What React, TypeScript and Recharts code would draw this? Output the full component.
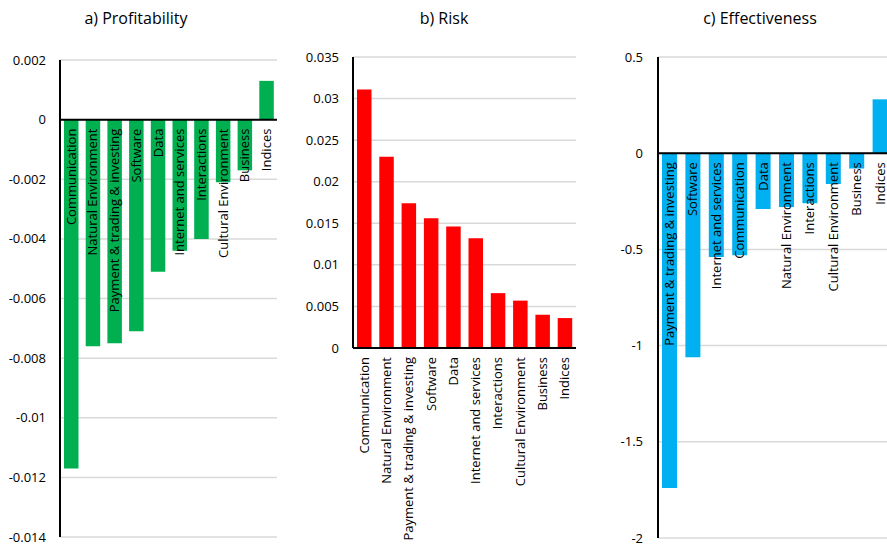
import React from "react";
import {
  BarChart,
  Bar,
  XAxis,
  YAxis,
  CartesianGrid,
  ReferenceLine,
  LabelList,
} from "recharts";

const FONT = "'Open Sans', sans-serif";

// a) Profitability
const PROFIT_CATS = [
  "Communication",
  "Natural Environment",
  "Payment & trading & investing",
  "Software",
  "Data",
  "Internet and services",
  "Interactions",
  "Cultural Environment",
  "Business",
  "Indices",
];
const PROFIT_VALUES = [-0.0117, -0.0076, -0.0075, -0.0071, -0.0051, -0.0044, -0.004, -0.0021, -0.0017, 0.0013];
const PROFIT_TICKS = [0.002, 0, -0.002, -0.004, -0.006, -0.008, -0.01, -0.012, -0.014];

// b) Risk
const RISK_CATS = PROFIT_CATS;
const RISK_VALUES = [0.0311, 0.023, 0.0174, 0.0156, 0.0146, 0.0132, 0.0066, 0.0057, 0.004, 0.0036];
const RISK_TICKS = [0, 0.005, 0.01, 0.015, 0.02, 0.025, 0.03, 0.035];

// c) Effectiveness
const EFFECT_CATS = [
  "Payment & trading & investing",
  "Software",
  "Internet and services",
  "Communication",
  "Data",
  "Natural Environment",
  "Interactions",
  "Cultural Environment",
  "Business",
  "Indices",
];
const EFFECT_VALUES = [-1.74, -1.06, -0.54, -0.53, -0.29, -0.28, -0.26, -0.16, -0.08, 0.28];
const EFFECT_TICKS = [0.5, 0, -0.5, -1, -1.5, -2];

type Row = { name: string; value: number };
const build = (cats: string[], vals: number[]): Row[] =>
  cats.map((name, i) => ({ name, value: vals[i] }));

const profitData = build(PROFIT_CATS, PROFIT_VALUES);
const riskData = build(RISK_CATS, RISK_VALUES);
const effectData = build(EFFECT_CATS, EFFECT_VALUES);

const tickStyle = { fontSize: 13, fill: "#000", fontFamily: FONT };

// category name drawn just under the zero line, rotated
const zeroLabel = (data: Row[]) => (props: any) => {
  const vb = props.viewBox ?? props;
  const { x, y, width, height } = vb;
  const row = data[props.index];
  if (!row) return null;
  const zero = row.value < 0 ? Math.min(y, y + height) : Math.max(y, y + height);
  const cx = x + width / 2;
  const ty = zero + 9;
  return (
    <text
      x={cx}
      y={ty}
      transform={`rotate(-90 ${cx} ${ty})`}
      textAnchor="end"
      dy="0.35em"
      fontSize={13}
      fill="#000"
      fontFamily={FONT}
    >
      {row.name}
    </text>
  );
};

const RotatedTick = (props: any) => {
  const { x, y, payload } = props;
  return (
    <text
      x={x}
      y={y}
      transform={`rotate(-90 ${x} ${y})`}
      textAnchor="end"
      dy="0.35em"
      fontSize={13}
      fill="#000"
      fontFamily={FONT}
    >
      {payload.value}
    </text>
  );
};

const Title = ({ text, cx }: { text: string; cx: number }) => (
  <div
    style={{
      position: "absolute",
      left: cx - 100,
      width: 200,
      top: 7,
      textAlign: "center",
      fontSize: 16,
      fontFamily: FONT,
      color: "#000",
    }}
  >
    {text}
  </div>
);

export default function App() {
  return (
    <div
      style={{
        position: "fixed",
        left: 0,
        top: 0,
        width: 887,
        height: 547,
        overflow: "hidden",
        background: "#fff",
      }}
    >
      <Title text="a) Profitability" cx={136} />
      <Title text="b) Risk" cx={444} />
      <Title text="c) Effectiveness" cx={760} />

      <div style={{ position: "absolute", left: 0, top: 0 }}>
        <BarChart width={290} height={547} data={profitData} margin={{ top: 60, right: 13, bottom: 10, left: 0 }}>
          <CartesianGrid vertical={false} stroke="#d9d9d9" strokeWidth={1.5} />
          <XAxis dataKey="name" type="category" hide />
          <YAxis
            type="number"
            domain={[-0.014, 0.002]}
            ticks={PROFIT_TICKS}
            interval={0}
            width={60}
            tickSize={0}
            tickMargin={14}
            tickLine={false}
            axisLine={{ stroke: "#000", strokeWidth: 2 }}
            tick={tickStyle}
            tickFormatter={(v) => String(v)}
          />
          <Bar dataKey="value" fill="#00B050" barSize={14.5} isAnimationActive={false}>
            <LabelList dataKey="name" content={zeroLabel(profitData)} />
          </Bar>
          <ReferenceLine y={0} stroke="#000" strokeWidth={2} />
        </BarChart>
      </div>

      <div style={{ position: "absolute", left: 300, top: 0 }}>
        <BarChart width={290} height={547} data={riskData} margin={{ top: 57, right: 14, bottom: 0, left: 0 }}>
          <CartesianGrid vertical={false} stroke="#d9d9d9" strokeWidth={1.5} />
          <XAxis
            dataKey="name"
            type="category"
            height={199}
            interval={0}
            tickSize={0}
            tickMargin={9}
            tickLine={false}
            axisLine={{ stroke: "#000", strokeWidth: 2 }}
            tick={<RotatedTick />}
          />
          <YAxis
            type="number"
            domain={[0, 0.035]}
            ticks={RISK_TICKS}
            interval={0}
            width={53}
            tickSize={0}
            tickMargin={14}
            tickLine={false}
            axisLine={{ stroke: "#000", strokeWidth: 2 }}
            tick={tickStyle}
            tickFormatter={(v) => String(v)}
          />
          <Bar dataKey="value" fill="#FF0000" barSize={14.5} isAnimationActive={false} />
        </BarChart>
      </div>

      <div style={{ position: "absolute", left: 600, top: 0 }}>
        <BarChart width={292} height={547} data={effectData} margin={{ top: 57, right: 0, bottom: 9, left: 0 }}>
          <CartesianGrid vertical={false} stroke="#d9d9d9" strokeWidth={1.5} />
          <XAxis dataKey="name" type="category" hide />
          <YAxis
            type="number"
            domain={[-2, 0.5]}
            ticks={EFFECT_TICKS}
            interval={0}
            width={58}
            tickSize={0}
            tickMargin={15}
            tickLine={false}
            axisLine={{ stroke: "#000", strokeWidth: 2 }}
            tick={tickStyle}
            tickFormatter={(v) => String(v)}
          />
          <Bar dataKey="value" fill="#00B0F0" barSize={15} isAnimationActive={false}>
            <LabelList dataKey="name" content={zeroLabel(effectData)} />
          </Bar>
          <ReferenceLine y={0} stroke="#000" strokeWidth={2} />
        </BarChart>
      </div>
    </div>
  );
}
